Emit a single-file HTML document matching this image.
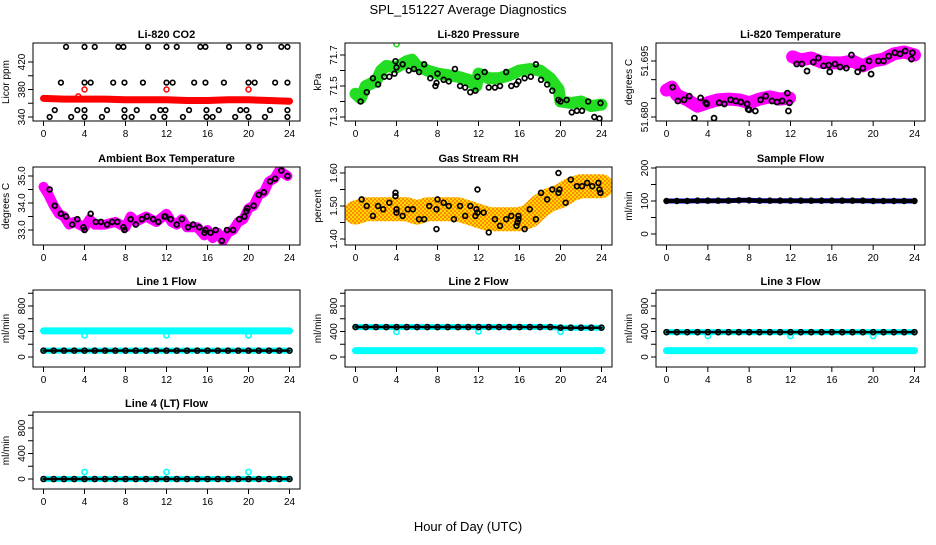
<!DOCTYPE html>
<html><head><meta charset="utf-8">
<style>
html,body{margin:0;padding:0;background:#fff;}
svg text{font-family:"Liberation Sans",Arial,sans-serif;}
</style></head>
<body>
<svg id="chart" width="936" height="540" viewBox="0 0 936 540" xmlns="http://www.w3.org/2000/svg">
<defs>
<pattern id="rhpat" width="4" height="4" patternUnits="userSpaceOnUse">
<rect width="4" height="4" fill="#ffd800"/>
<rect width="2" height="2" fill="#ff8c00"/>
<rect x="2" y="2" width="2" height="2" fill="#ff8c00"/>
</pattern>
</defs>
<text x="468" y="14" font-size="13" text-anchor="middle">SPL_151227  Average Diagnostics</text>
<text x="468" y="531" font-size="13" text-anchor="middle">Hour of Day (UTC)</text>
</svg>
<script>
// ---- data ----
const hourTicks = [0,4,8,12,16,20,24];
const co2BandX = [0,2,4,6,8,10,12,14,16,18,20,22,24];
const co2BandV = [367,366,366,366,365,365,365,364,364,365,365,364,363];
const co2RedX = [3.4,4,12,20];
const co2RedV = [370,380,380,380];
const co2BlackX = [2.2,4,5,7.3,7.8,10.2,12,13,15.3,15.8,18.1,20,21.1,23.2,23.8, 1.7,4,4.6,6.8,7.9,9.7,12,12.6,14.7,15.8,17.6,20,20.6,22.6,23.8, 1.1,3.3,4,6.2,7.9,9.1,11.4,11.9,14.2,15.9,17.1,19.2,19.8,22.1,23.8, 0.6,2.7,4,5.7,7.9,8.6,10.7,11.8,13.6,15.9,16.5,18.7,20,21.6,23.8];
const co2BlackV = [442,442,442,442,442,442,442,442,442,442,442,442,442,442,442, 390,390,390,390,390,390,390,390,390,390,390,390,390,390,390, 350,350,350,350,350,350,350,350,350,350,350,350,350,350,350, 340,340,340,340,340,340,340,340,340,340,340,340,340,340,340];

const presBandX = [0,0.5,1,2,2.5,3,4,5,5.5,6,7,8,9,10,11,11.8,12,13,14,15,16,17,18,19,19.8,20,21,22,23,24];
const presBandV = [71.45,71.42,71.50,71.53,71.60,71.63,71.62,71.66,71.67,71.63,71.60,71.58,71.57,71.56,71.54,71.50,71.58,71.55,71.55,71.57,71.60,71.61,71.60,71.55,71.48,71.40,71.39,71.40,71.37,71.38];
const presBlackX = [0.5,1.1,1.7,2.2,2.8,3.3,3.8,3.9,4,4.6,5.2,5.7,6.2,6.7,7.3,7.8,7.9,8,8.6,9.1,9.7,10.2,10.7,11.2,11.7,11.9,12.6,13,13.6,14.1,14.7,15.2,15.7,15.9,16.5,17.1,17.6,18.1,18.7,19.2,19.8,20,20.6,21.1,21.6,22.1,22.7,23.3,23.8,23.9];
const presBlackV = [71.40,71.46,71.55,71.51,71.56,71.56,71.58,71.66,71.62,71.64,71.60,71.61,71.59,71.64,71.55,71.50,71.52,71.58,71.54,71.53,71.61,71.50,71.49,71.46,71.47,71.56,71.59,71.49,71.49,71.50,71.59,71.50,71.51,71.53,71.55,71.56,71.64,71.54,71.51,71.47,71.41,71.40,71.41,71.33,71.34,71.34,71.40,71.30,71.29,71.39];
const presOutX = [4];
const presOutV = [71.77];

const tempBand1X = [0,0.5,1,2,3,4,5,6,7,8,9,10,11,11.9];
const tempBand1V = [51.6872,51.6880,51.6859,51.6846,51.6829,51.6838,51.6846,51.6848,51.6846,51.6838,51.6848,51.6854,51.6848,51.6851];
const tempBand2X = [12.2,13,14,15,16,17,18,19,20,21,22,23,24];
const tempBand2V = [51.6961,51.6953,51.6958,51.6947,51.6945,51.6945,51.6950,51.6937,51.6950,51.6955,51.6969,51.6974,51.6966];
const tempBlackX = [0.6,1.1,1.7,2.2,2.7,3.3,3.8,3.9,4.6,5.1,5.6,6.2,6.7,7.2,7.8,7.9,8.0,8.6,9.1,9.6,10.2,10.7,11.2,11.7,11.8,11.9,12.6,13.1,13.6,14.2,14.7,15.2,15.7,15.8,16.3,16.8,17.4,17.9,18.5,19.0,19.6,19.8,20.5,21.0,21.5,22.1,22.6,23.1,23.7,23.8];
const tempBlackV = [51.6880,51.6843,51.6846,51.6856,51.6797,51.6851,51.6838,51.6835,51.6797,51.6838,51.6835,51.6846,51.6843,51.6840,51.6835,51.6821,51.6819,51.6816,51.6846,51.6856,51.6843,51.6840,51.6843,51.6864,51.6816,51.6838,51.6942,51.6942,51.6923,51.6947,51.6958,51.6937,51.6939,51.6921,51.6942,51.6934,51.6931,51.6966,51.6921,51.6931,51.6950,51.6915,51.6950,51.6950,51.6963,51.6972,51.6969,51.6977,51.6955,51.6972];

const ambBandX = [0,0.5,1,1.5,2,2.5,3,4,4.5,5,6,7,8,8.5,9,10,11,12,12.5,13,13.5,14,15,15.7,16,16.5,17,17.5,18,18.5,19,19.5,20,20.5,21,21.5,22,22.5,23,23.8];
const ambBandV = [34.6,34.3,33.9,33.6,33.5,33.2,33.3,33.1,33.4,33.2,33.2,33.3,33.1,33.5,33.3,33.5,33.3,33.6,33.3,33.2,33.4,33.1,33.1,32.8,33.0,32.7,32.9,32.6,32.9,33.0,33.3,33.4,33.8,33.9,34.3,34.4,34.8,34.9,35.2,35.0];
const ambBlackX = [0.6,1.1,1.7,2.2,2.8,3.3,3.9,4.0,4.6,5.1,5.6,6.2,6.7,7.2,7.8,7.9,8.5,9.0,9.6,10.1,10.7,11.2,11.8,11.9,12.4,13.0,13.5,14.1,14.6,15.2,15.7,15.8,16.3,16.8,17.4,17.9,18.5,19.1,19.6,19.8,19.9,20.5,21.0,21.5,22.1,22.6,23.2,23.8];
const ambBlackV = [34.5,33.9,33.6,33.5,33.2,33.4,33.1,33.0,33.6,33.3,33.3,33.2,33.3,33.3,33.1,33.0,33.4,33.2,33.4,33.5,33.4,33.3,33.5,33.5,33.4,33.2,33.4,33.1,33.2,33.1,32.9,33.0,32.9,33.0,32.6,33.0,33.0,33.4,33.5,33.7,33.8,33.9,34.3,34.4,34.8,34.9,35.2,35.0];

const rhBandX = [0,1,2,3,4,5,6,7,8,9,10,11,12,13,14,15,16,17,18,19,20,21,22,23,24];
const rhBandV = [1.48,1.49,1.49,1.49,1.49,1.49,1.48,1.49,1.49,1.49,1.49,1.48,1.47,1.46,1.46,1.46,1.46,1.47,1.50,1.52,1.53,1.55,1.56,1.56,1.56];
const rhBlackX = [0.6,1.1,1.7,2.2,2.7,3.3,3.9,3.9,4.0,4.0,4.6,5.1,5.6,6.2,6.7,7.2,7.9,7.9,8.0,8.6,9.1,9.6,10.2,10.7,11.2,11.7,11.8,11.9,11.9,12.5,13.0,13.6,14.1,14.7,15.2,15.7,15.8,15.9,15.9,16.5,17.0,17.6,18.1,18.7,19.2,19.8,19.8,19.9,20.5,21.0,21.6,22.1,22.6,23.1,23.7,23.8,23.9];
const rhBlackV = [1.52,1.50,1.47,1.50,1.49,1.51,1.53,1.54,1.49,1.48,1.47,1.49,1.49,1.46,1.46,1.50,1.43,1.49,1.52,1.51,1.50,1.46,1.50,1.47,1.50,1.47,1.49,1.48,1.55,1.48,1.42,1.46,1.44,1.46,1.47,1.44,1.45,1.46,1.47,1.43,1.49,1.46,1.54,1.52,1.55,1.60,1.54,1.55,1.51,1.58,1.56,1.56,1.57,1.56,1.57,1.55,1.54];

const flowHours = [0,1,2,3,4,5,6,7,8,9,10,11,12,13,14,15,16,17,18,19,20,21,22,23,24];
const sampleFlowV = [100,100,100,101,101,101,101,102,102,101,101,101,101,101,101,101,101,101,101,101,100,100,100,100,100];
const line1Black = [100,100,100,100,100,100,100,100,100,100,100,100,100,100,100,100,100,100,100,100,100,100,100,100,100];
const line1Cyan = [410,410,410,410,410,410,410,410,410,410,410,410,410,410,410,410,410,410,410,410,410,410,410,410,410];
const line2Black = [470,470,470,470,470,470,470,470,470,470,470,470,470,470,470,470,470,470,470,470,460,460,460,460,460];
const line2Cyan = [100,100,100,100,100,100,100,100,100,100,100,100,100,100,100,100,100,100,100,100,100,100,100,100,100];
const line3Black = [390,390,390,390,390,390,390,390,390,390,390,390,390,390,390,390,390,390,390,390,390,390,390,390,390];
const line3Cyan = [100,100,100,100,100,100,100,100,100,100,100,100,100,100,100,100,100,100,100,100,100,100,100,100,100];
const line4Black = [0,0,0,0,0,0,0,0,0,0,0,0,0,0,0,0,0,0,0,0,0,0,0,0,0];
const outlierHours = [4,12,20];
const line1Out = [340,340,340];
const line2Out = [395,400,395];
const line3Out = [330,330,330];
const line4Out = [110,110,110];

// ---- layout ----
const svg = document.getElementById('chart');
const NS = 'http://www.w3.org/2000/svg';
const cols = [{L:33,R:300},{L:345,R:612},{L:656,R:925}];
const rows = [{T:43,B:121},{T:167,B:245},{T:290,B:367},{T:412,B:489}];
function mk(tag, attrs, parent){
  const e = document.createElementNS(NS, tag);
  for (const k in attrs) e.setAttribute(k, attrs[k]);
  (parent||svg).appendChild(e);
  return e;
}
function makePanel(c, r, title, ylab, ticks, labels, v1, p1, v2, p2){
  const col = cols[c], row = rows[r];
  const g = mk('g', {});
  
  
  const clipId = 'clip' + c + r;
  const cp = mk('clipPath', {id: clipId}, g);
  mk('rect', {x: col.L, y: row.T, width: col.R-col.L, height: row.B-row.T}, cp);
  const x0 = col.L + 10.5, x1 = col.R - 10.5;
  const X = h => x0 + h/24*(x1-x0);
  const Y = v => p1 + (v - v1)/(v2 - v1)*(p2 - p1);
  const t = mk('text', {x:(col.L+col.R)/2, y: row.T-5, 'font-size':11, 'font-weight':'bold', 'text-anchor':'middle'}, g);
  t.textContent = title;
  
  
  const yl = mk('text', {transform:`translate(${col.L-24},${(row.T+row.B)/2}) rotate(-90)`, 'font-size':10, 'text-anchor':'middle'}, g);
  yl.textContent = ylab;
  
  
  const plot = mk('g', {'clip-path': `url(#${clipId})`}, g);
  
  
  const xa = mk('g', {}, g);
  
  
  hourTicks.forEach(h => {
    mk('line', {x1:X(h), x2:X(h), y1:row.B, y2:row.B+5, stroke:'#000', 'stroke-width':1}, xa);
    const tx = mk('text', {x:X(h), y:row.B+16, 'font-size':10, 'text-anchor':'middle'}, xa);
    tx.textContent = h;
    
    
  });
  const ya = mk('g', {}, g);
  
  
  ticks.forEach((v, i) => {
    const y = Y(v);
    mk('line', {x1:col.L-5, x2:col.L, y1:y, y2:y, stroke:'#000', 'stroke-width':1}, ya);
    if (labels[i]) {
      const ty = mk('text', {transform:`translate(${col.L-8},${y}) rotate(-90)`, 'font-size':10, 'text-anchor':'middle'}, ya);
      ty.textContent = labels[i];
      
      
    }
  });
  mk('rect', {x: col.L, y: row.T, width: col.R-col.L, height: row.B-row.T, fill:'none', stroke:'#000', 'stroke-width':1}, g);
  return {X, Y, plot};
}
function band(p, xs, vs, color, w, name){
  const pts = xs.map((h,i) => p.X(h).toFixed(1)+','+p.Y(vs[i]).toFixed(1)).join(' ');
  const e = mk('polyline', {points: pts, fill:'none', stroke: color, 'stroke-width': w, 'stroke-linejoin':'round', 'stroke-linecap':'round'}, p.plot);
  
  
}
function pts(p, xs, vs, color, r, sw, name){
  xs.forEach((h,i) => {
    const e = mk('circle', {cx: p.X(h), cy: p.Y(vs[i]), r: r, fill:'none', stroke: color, 'stroke-width': sw}, p.plot);
    
    
  });
}

// Li-820 CO2
let p = makePanel(0,0,'Li-820 CO2','Licor ppm',[340,360,380,400,420],['340','','380','','420'],340,117,420,62);
band(p, co2BandX, co2BandV, '#ff0000', 7, 'co2-band');
pts(p, co2RedX, co2RedV, '#ff0000', 2.5, 1.5, 'co2-red-point');
pts(p, co2BlackX, co2BlackV, '#000', 2.3, 1.6, 'co2-black-point');

// Pressure
p = makePanel(1,0,'Li-820 Pressure','kPa',[71.3,71.4,71.5,71.6,71.7],['71.3','','71.5','','71.7'],71.3,117,71.7,55);
band(p, presBandX, presBandV, '#22dd22', 12, 'pressure-band');
pts(p, presOutX, presOutV, '#22dd22', 2.6, 1.6, 'pressure-outlier');
pts(p, presBlackX, presBlackV, '#000', 2.4, 1.7, 'pressure-black-point');

// Temperature
p = makePanel(2,0,'Li-820 Temperature','degrees C',[51.680,51.685,51.690,51.695],['51.680','','','51.695'],51.680,117,51.695,61);
band(p, tempBand1X, tempBand1V, '#ff00ff', 13, 'temperature-band-1');
band(p, tempBand2X, tempBand2V, '#ff00ff', 13, 'temperature-band-2');
pts(p, tempBlackX, tempBlackV, '#000', 2.5, 1.8, 'temperature-black-point');

// Ambient box temperature
p = makePanel(0,1,'Ambient Box Temperature','degrees C',[33.0,33.5,34.0,34.5,35.0],['33.0','','34.0','','35.0'],33.0,230,35.0,176);
band(p, ambBandX, ambBandV, '#ff00ff', 10, 'ambient-band');
pts(p, ambBlackX, ambBlackV, '#000', 2.4, 1.8, 'ambient-black-point');

// Gas stream RH
p = makePanel(1,1,'Gas Stream RH','percent',[1.40,1.45,1.50,1.55,1.60],['1.40','','1.50','','1.60'],1.40,239,1.60,173);
band(p, rhBandX, rhBandV, 'url(#rhpat)', 24, 'rh-cloud');
pts(p, rhBlackX, rhBlackV, '#000', 2.4, 1.7, 'rh-black-point');

// Sample flow
p = makePanel(2,1,'Sample Flow','ml/min',[0,50,100,150,200],['0','','100','','200'],0,234,200,168);
band(p, flowHours, sampleFlowV, '#0000ff', 5, 'sample-flow-band');
band(p, flowHours, sampleFlowV, '#000', 4, 'sample-flow-line');
pts(p, flowHours, sampleFlowV, '#000', 2.5, 1.5, 'sample-flow-point');

// Line flows
const flowTicks = [0,200,400,600,800,1000];
const flowLabels = ['0','','400','','800',''];
p = makePanel(0,2,'Line 1 Flow','ml/min',flowTicks,flowLabels,0,357,800,306);
band(p, flowHours, line1Cyan, '#00ffff', 7, 'line1-cyan-band');
band(p, flowHours, line1Black, '#00ffff', 6, 'line1-cyan-low');
pts(p, outlierHours, line1Out, '#00ffff', 2.6, 1.6, 'line1-outlier');
band(p, flowHours, line1Black, '#000', 2.5, 'line1-black-line');
pts(p, flowHours, line1Black, '#000', 2.5, 1.6, 'line1-black-point');

p = makePanel(1,2,'Line 2 Flow','ml/min',flowTicks,flowLabels,0,357,800,306);
band(p, flowHours, line2Cyan, '#00ffff', 7, 'line2-cyan-band');
band(p, flowHours, line2Black, '#00ffff', 6, 'line2-cyan-high');
pts(p, outlierHours, line2Out, '#00ffff', 2.6, 1.6, 'line2-outlier');
band(p, flowHours, line2Black, '#000', 2.5, 'line2-black-line');
pts(p, flowHours, line2Black, '#000', 2.5, 1.6, 'line2-black-point');

p = makePanel(2,2,'Line 3 Flow','ml/min',flowTicks,flowLabels,0,357,800,306);
band(p, flowHours, line3Cyan, '#00ffff', 7, 'line3-cyan-band');
band(p, flowHours, line3Black, '#00ffff', 6, 'line3-cyan-high');
pts(p, outlierHours, line3Out, '#00ffff', 2.6, 1.6, 'line3-outlier');
band(p, flowHours, line3Black, '#000', 2.5, 'line3-black-line');
pts(p, flowHours, line3Black, '#000', 2.5, 1.6, 'line3-black-point');

p = makePanel(0,3,'Line 4 (LT) Flow','ml/min',flowTicks,flowLabels,0,479,800,428);
band(p, flowHours, line4Black, '#00ffff', 6, 'line4-cyan-band');
pts(p, outlierHours, line4Out, '#00ffff', 2.6, 1.6, 'line4-outlier');
band(p, flowHours, line4Black, '#000', 2.5, 'line4-black-line');
pts(p, flowHours, line4Black, '#000', 2.5, 1.6, 'line4-black-point');
</script>
</body></html>
